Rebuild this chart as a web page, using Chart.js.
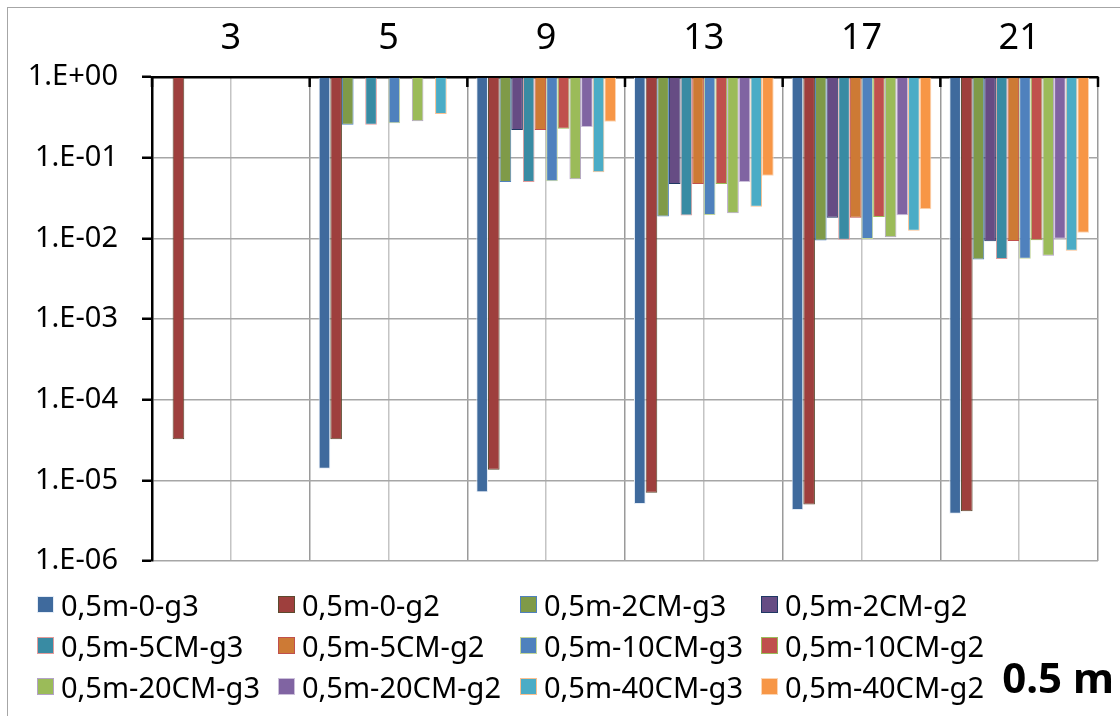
<!DOCTYPE html>
<html>
<head>
<meta charset="utf-8">
<script src="https://cdn.jsdelivr.net/npm/chart.js@4"></script>
<style>
  html, body { margin:0; padding:0; background:#fff; }
  body { width:1120px; height:716px; position:relative; overflow:hidden; font-family:"Noto Sans", sans-serif; }
  #frame { position:absolute; left:7px; top:7px; right:-10px; bottom:-10px; border-left:1.5px solid #a6a6a6; border-top:1.5px solid #a6a6a6; }
  #wrap { position:absolute; left:0; top:0; width:1120px; height:716px; }
  #legend { position:absolute; left:37px; top:584px; display:grid; grid-template-columns:241px 242px 241px auto; grid-auto-rows:41px; }
  .item { display:flex; align-items:center; font-size:29px; color:#000; white-space:nowrap; }
  .box { width:17px; height:17px; margin-right:7px; box-sizing:border-box; border:1.5px solid; }
  #tag { position:absolute; right:6px; top:648px; font-size:42px; font-weight:bold; color:#000; }
</style>
</head>
<body>
<div id="frame"></div>
<div id="wrap"><canvas id="chart"></canvas></div>
<div id="legend"></div>
<div id="tag">0.5 m</div>
<script>

/* ===================================================== */
/* DATOS */
/* ===================================================== */

const categories = ['3', '5', '9', '13', '17', '21'];

const yTicks = [1, 1e-1, 1e-2, 1e-3, 1e-4, 1e-5, 1e-6];
const yTickLabels = ['1.E+00', '1.E-01', '1.E-02', '1.E-03', '1.E-04', '1.E-05', '1.E-06'];

const s0g3   = [null,    1.39e-5, 7.1e-6,  5.1e-6,  4.3e-6,  3.85e-6];
const s0g2   = [3.24e-5, 3.24e-5, 1.35e-5, 7.0e-6,  5.0e-6,  4.15e-6];
const s2g3   = [null,    0.256,   0.050,   0.0186,  0.0094,  0.00545];
const s2g2   = [null,    null,    0.22,    0.047,   0.018,   0.0092];
const s5g3   = [null,    0.256,   0.050,   0.0192,  0.0096,  0.00556];
const s5g2   = [null,    null,    0.22,    0.047,   0.018,   0.0093];
const s10g3  = [null,    0.267,   0.051,   0.0195,  0.0098,  0.0056];
const s10g2  = [null,    null,    0.229,   0.0473,  0.0184,  0.0095];
const s20g3  = [null,    0.282,   0.054,   0.0205,  0.0103,  0.0061];
const s20g2  = [null,    null,    0.24,    0.050,   0.0193,  0.0099];
const s40g3  = [null,    0.348,   0.066,   0.0247,  0.0124,  0.0070];
const s40g2  = [null,    null,    0.279,   0.0598,  0.0229,  0.0117];

const seriesLabels = [
  '0,5m-0-g3', '0,5m-0-g2', '0,5m-2CM-g3', '0,5m-2CM-g2',
  '0,5m-5CM-g3', '0,5m-5CM-g2', '0,5m-10CM-g3', '0,5m-10CM-g2',
  '0,5m-20CM-g3', '0,5m-20CM-g2', '0,5m-40CM-g3', '0,5m-40CM-g2'
];

const seriesValues = [s0g3, s0g2, s2g3, s2g2, s5g3, s5g2, s10g3, s10g2, s20g3, s20g2, s40g3, s40g2];

const fillColors = [
  '#3F6A9D', '#9E3F3D', '#7F9A48', '#664C84',
  '#398BA3', '#CD7A35', '#4F81BD', '#C0504D',
  '#9BBB59', '#8064A2', '#4BACC6', '#F79646'
];

const edgeColors = [
  '#e4ecf6', '#5b4a2e', '#4F81BD', '#1F3864',
  '#E39B9B', '#C0504D', '#C3D69B', '#9BBB59',
  '#B3A2C7', '#CCC0DA', '#FAC090', '#FCD5B4'
];

/* ===================================================== */
/* GRAFICO */
/* ===================================================== */

const datasets = seriesLabels.map((label, i) => ({
  label: label,
  data: seriesValues[i],
  backgroundColor: fillColors[i],
  borderColor: edgeColors[i],
  borderWidth: 1,
  base: 1,
  categoryPercentage: 0.886,
  barPercentage: 1,
  xAxisID: 'x'
}));

/* marcas interiores del eje superior */
const innerTicks = {
  id: 'innerTicks',
  afterDatasetsDraw(chart){
    const xs = chart.scales.x;
    const top = chart.chartArea.top;
    const ctx = chart.ctx;
    ctx.save();
    ctx.strokeStyle = '#000';
    ctx.lineWidth = 2.5;
    for(let i = 0; i <= categories.length; i++){
      const px = xs.getPixelForValue(i - 0.5);
      ctx.beginPath();
      ctx.moveTo(px, top);
      ctx.lineTo(px, top + 10);
      ctx.stroke();
    }
    ctx.restore();
  }
};

const chart = new Chart(
document.getElementById('chart'),
{
  type: 'bar',
  data: {
    labels: categories,
    datasets: datasets
  },
  options: {
    responsive: true,
    maintainAspectRatio: false,
    animation: false,
    layout: {
      padding: { left: 0, top: 0, right: 22, bottom: 155 }
    },
    plugins: {
      legend: { display: false },
      tooltip: { enabled: false }
    },
    scales: {
      x: {
        position: 'top',
        offset: true,
        grid: {
          offset: true,
          color: '#9a9a9a',
          lineWidth: 1.5,
          drawTicks: false
        },
        border: { display: true, color: '#000', width: 2.5 },
        ticks: {
          color: '#000',
          padding: 17,
          font: { family: 'Noto Sans', size: 36 }
        },
        afterFit(scale){ scale.height = 77; }
      },
      xc: {
        position: 'top',
        offset: true,
        grid: {
          offset: false,
          color: '#c4c4c4',
          lineWidth: 1.5,
          drawTicks: false
        },
        border: { display: false },
        ticks: { display: false },
        afterFit(scale){ scale.height = 0; }
      },
      y: {
        type: 'logarithmic',
        min: 1e-6,
        max: 1,
        grid: {
          color: '#a6a6a6',
          lineWidth: 1.5,
          tickColor: '#000',
          tickWidth: 2.5,
          tickLength: 10
        },
        border: { display: true, color: '#000', width: 2.5 },
        afterBuildTicks(scale){
          scale.ticks = yTicks.map(v => ({ value: v, major: true }));
        },
        ticks: {
          color: '#000',
          padding: 24,
          font: { family: 'Noto Sans', size: 29 },
          callback(value){
            const idx = yTicks.findIndex(t => Math.abs(Math.log10(t) - Math.log10(value)) < 1e-6);
            return idx >= 0 ? yTickLabels[idx] : '';
          }
        },
        afterFit(scale){ scale.width = 152; }
      }
    }
  },
  plugins: [innerTicks]
});

/* ===================================================== */
/* LEYENDA */
/* ===================================================== */

const legend = document.getElementById('legend');

chart.data.datasets.forEach(ds => {
  const item = document.createElement('div');
  item.className = 'item';
  const box = document.createElement('span');
  box.className = 'box';
  box.style.background = ds.backgroundColor;
  box.style.borderColor = ds.borderColor;
  const txt = document.createElement('span');
  txt.innerText = ds.label;
  item.appendChild(box);
  item.appendChild(txt);
  legend.appendChild(item);
});

</script>
</body>
</html>
